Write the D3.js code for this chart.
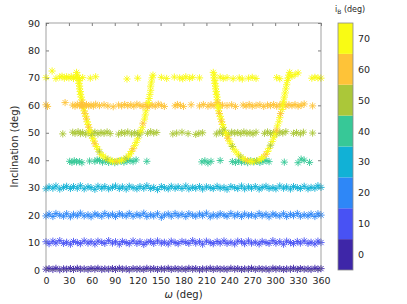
<!DOCTYPE html>
<html>
<head>
<meta charset="utf-8">
<script src="https://cdn.jsdelivr.net/npm/d3@7"></script>
<style>
  body { margin: 0; background: #fff; }
  text { font-family: "DejaVu Sans", sans-serif; fill: #262626; }
</style>
</head>
<body>
<div id="chart"></div>
<script>
// Tick labels
const omegaTicks = [0, 30, 60, 90, 120, 150, 180, 210, 240, 270, 300, 330, 360];
const incTicks = [0, 10, 20, 30, 40, 50, 60, 70, 80, 90];
const colorTicks = [0, 10, 20, 30, 40, 50, 60, 70];

// parula colormap, 8 levels
const parula8 = ["#3e26a8", "#4852f4", "#2e87f7", "#11b1d6", "#37c897", "#abc739", "#fec338", "#f9fb14"];

// dense rows share one omega grid
const omegaDense = [0,4,9,13,18,23,27,32,36,41, 45,50,55,59,64,68,73,77,82,87,
  91,96,100,105,109,114,119,123,128,132, 137,141,146,151,155,160,164,169,173,178,
  183,187,192,196,201,205,210,215,219,224, 228,233,237,242,247,251,256,260,265,269,
  274,279,283,288,292,297,301,306,311,315, 320,324,329,333,338,343,347,352,356,360];

const inc0 = [0.3,0.5,0.2,0.6,0.1,0.4,0.3,0.5,0.2,0.6, 0.3,0.4,0.2,0.5,0.3,0.6,0.2,0.4,0.3,0.5,
  0.2,0.6,0.3,0.4,0.1,0.5,0.3,0.4,0.2,0.6, 0.3,0.5,0.2,0.4,0.3,0.6,0.2,0.5,0.3,0.4,
  0.2,0.6,0.3,0.5,0.1,0.4,0.3,0.6,0.2,0.5, 0.3,0.4,0.2,0.6,0.3,0.5,0.2,0.4,0.3,0.6,
  0.2,0.5,0.3,0.4,0.1,0.6,0.3,0.5,0.2,0.4, 0.3,0.6,0.2,0.5,0.3,0.4,0.2,0.6,0.3,0.5];
const inc10 = [10.3,9.6,10.5,9.8,10.7,9.7,10.1,9.4,10.4,10.0, 9.6,10.6,9.8,10.3,9.5,10.5,10.1,9.7,10.7,9.8,
  10.3,9.4,10.4,10.0,9.6,10.6,9.7,10.3,9.3,10.1, 10.4,9.7,10.6,9.8,10.1,9.5,10.5,10.0,9.6,10.4,
  10.1,9.7,10.7,9.8,10.3,9.4,10.5,10.0,9.6,10.4, 9.8,10.6,9.7,10.1,9.5,10.5,10.3,9.6,10.6,9.8,
  10.1,9.5,10.4,10.0,9.7,10.7,9.8,10.3,9.4,10.5, 10.0,9.6,10.4,9.8,10.6,9.7,10.1,9.5,10.5,10.0];
const inc20 = [19.7,20.4,19.5,20.6,20.0,19.6,20.5,19.4,20.3,19.8, 20.7,19.7,20.1,19.4,20.4,20.0,19.6,20.6,19.8,20.3,
  19.5,20.5,20.0,19.7,20.6,19.6,20.3,19.8,20.7,19.5, 20.1,19.7,20.5,19.2,20.0,20.4,19.6,20.6,19.8,20.3,
  19.5,20.5,20.0,19.6,20.4,19.8,20.7,19.4,20.1,19.7, 20.5,20.0,19.6,20.6,19.7,20.3,19.5,20.4,19.8,20.1,
  19.6,20.6,19.8,20.3,19.4,20.4,20.0,19.7,20.5,19.5, 20.3,19.8,20.6,19.6,20.1,19.7,20.4,19.5,20.5,20.0];
const inc30 = [29.6,30.3,29.8,30.6,29.5,30.1,30.5,29.7,30.4,29.8, 30.7,29.6,30.3,30.0,29.4,30.5,29.8,30.4,29.6,30.1,
  30.6,29.7,30.3,29.5,30.5,30.0,29.6,30.4,29.8,30.7, 29.7,30.1,29.3,30.4,30.0,29.6,30.5,29.8,30.3,29.7,
  30.6,29.6,30.1,29.8,30.4,29.5,30.3,30.0,29.7,30.5, 29.8,30.1,29.4,30.4,30.0,29.7,30.6,29.6,30.3,29.8,
  30.4,29.5,30.1,30.5,29.7,30.0,29.6,30.6,29.8,30.3, 29.5,30.4,30.0,29.7,30.5,29.6,30.1,29.8,30.7,30.1];

// sparse rows, [omega, inclination]
const row40 = [[31,39.6],[34,39.2],[37,39.8],[40,39.4],[44,39.5],[47,39.1],[57,39.7],[64,39.6],[67,40.1],[70,39.9],
  [74,39.3],[78,39.8],[82,39.2],[86,39.6],[90,39.1],[94,39.5],[98,39.8],[102,39.3],[106,39.7],[110,39.9],
  [114,39.5],[118,40.1],[132,39.6],[204,39.4],[208,39.8],[212,39.0],[216,39.6],[228,39.9],[244,39.5],[248,39.2],
  [252,39.7],[256,39.3],[260,39.6],[264,39.1],[268,39.8],[272,39.4],[276,39.7],[280,39.2],[284,39.6],[288,39.9],
  [292,39.5],[312,39.3],[330,39.1],[334,40.4],[338,40.0],[345,39.2]];
const row50 = [[22,49.6],[35,50.2],[38,49.8],[42,50.4],[45,49.7],[48,50.1],[52,49.5],[56,50.3],[60,49.9],[64,50.2],
  [68,49.6],[72,50.1],[76,49.8],[80,50.3],[84,49.7],[95,49.5],[99,50.1],[103,49.8],[107,50.3],[112,49.6],
  [116,50.0],[120,49.7],[124,50.2],[133,49.8],[137,50.4],[141,49.9],[145,50.1],[166,49.6],[171,49.9],[178,50.2],
  [186,49.7],[196,49.4],[200,49.8],[205,50.0],[223,49.6],[227,50.3],[231,49.8],[235,50.1],[239,49.5],[243,50.2],
  [247,49.9],[251,50.1],[255,49.7],[259,50.3],[263,49.8],[267,50.0],[271,49.6],[275,50.2],[286,49.8],[290,50.3],
  [294,49.7],[298,50.1],[302,49.6],[306,50.2],[310,49.9],[314,50.4],[324,49.8],[328,50.1],[333,49.6],[337,50.2],
  [349,49.9]];
const row60 = [[0,60.2],[2,59.6],[25,61.0],[35,60.1],[38,59.7],[41,60.4],[44,59.9],[47,60.2],[50,59.6],[53,60.3],
  [56,59.8],[59,60.1],[62,59.7],[65,60.4],[70,59.9],[76,60.2],[81,59.8],[88,59.5],[95,60.1],[99,59.8],
  [103,60.3],[107,59.9],[111,60.2],[115,59.7],[119,60.4],[123,60.0],[127,59.6],[131,60.3],[135,59.9],[139,60.1],
  [143,59.7],[147,60.4],[151,60.0],[155,59.6],[169,59.8],[172,60.3],[176,60.0],[180,59.6],[190,60.2],[201,59.8],
  [206,60.3],[212,59.7],[216,60.2],[220,59.9],[224,60.4],[228,59.8],[231,60.1],[237,59.9],[243,60.2],[248,59.6],
  [258,60.1],[262,59.8],[266,60.3],[270,59.7],[275,60.0],[280,60.2],[285,59.6],[290,60.1],[294,59.9],[298,60.3],
  [302,59.7],[306,60.1],[310,60.4],[314,59.8],[318,60.2],[322,59.9],[326,60.3],[330,59.7],[334,60.0],[338,60.5],
  [349,59.8]];
const row70 = [[0,70.1],[8,72.5],[13,69.8],[18,70.3],[21,70.6],[24,69.9],[27,70.4],[30,70.0],[33,70.5],[36,69.8],
  [39,70.2],[44,69.7],[48,70.1],[58,69.9],[65,70.4],[106,69.6],[120,69.9],[151,70.2],[158,69.8],[168,70.3],
  [175,70.0],[179,69.7],[183,70.4],[188,69.9],[192,70.2],[201,70.0],[228,70.3],[232,69.8],[237,70.1],[245,69.7],
  [253,70.0],[257,69.6],[265,69.9],[270,70.2],[275,69.8],[302,70.1],[306,69.7],[322,70.6],[326,71.2],[330,71.8],
  [348,69.9],[352,70.2],[356,70.0],[360,69.9]];

// the two U-shaped tracks, [omega, inclination, iB]
const trackA = [[40,72,70],[41,71,70],[42,70,70],[43,69,70],[43,68,70],[44,67,70],[44,66,70],[45,65,70],[45,64,70],[46,63,70],
  [47,62,70],[47,61,60],[48,60,60],[49,59,60],[50,58,70],[51,57,60],[52,56,70],[53,55,60],[54,54,70],[55,53,70],
  [56,52,60],[57,51,70],[58,50,70],[60,49,50],[61,48,70],[63,47,70],[64,46,60],[66,45,70],[68,44,70],[70,43,50],
  [72,42,70],[75,41.5,70],[78,40.8,70],[81,40.3,50],[84,40,70],[87,39.6,70],[90,39.5,70],[93,39.6,60],[96,39.8,70],[99,40,70],
  [102,40.3,70],[105,40.8,50],[108,41.5,70],[110,42.3,70],[112,43.2,70],[114,44.2,60],[116,45.3,70],[118,46.5,70],[120,47.8,70],[122,49.2,50],
  [124,50.6,70],[126,52,70],[127,53.5,60],[129,55,70],[130,56.5,70],[131,58,70],[133,59.5,60],[134,61,70],[135,62.5,70],[136,64,70],
  [137,65.5,70],[137,67,70],[138,68.5,70],[139,70,70],[140,71,70]];
const trackB = [[219,72,70],[220,71,70],[220,70,70],[221,69,70],[221,68,70],[222,67,70],[222,66,70],[223,65,70],[223,64,70],[224,63,70],
  [224,62,70],[225,61,60],[225,60,70],[226,59,70],[226,58,70],[227,57,60],[228,56,70],[229,55,70],[230,54,60],[231,53,70],
  [232,52,70],[233,51,50],[235,50,70],[237,49,70],[238,48,60],[240,47,70],[242,46,70],[244,45,50],[246,44,70],[249,43,70],
  [252,42,70],[255,41.2,50],[258,40.6,70],[261,40.1,70],[264,39.8,60],[267,39.6,70],[270,39.5,70],[273,39.6,70],[276,39.8,50],[279,40.1,70],
  [282,40.6,70],[285,41.3,70],[288,42.2,60],[290,43.2,70],[292,44.3,70],[294,45.5,50],[296,46.8,70],[298,48.2,70],[300,49.6,70],[302,51,60],
  [303,52.5,70],[305,54,70],[306,55.5,70],[307,57,60],[309,58.5,70],[310,60,70],[311,61.5,70],[312,63,70],[313,64.5,70],[314,66,70],
  [315,67.5,70],[316,69,70],[317,70,70],[318,71,70],[319,72,70]];

// Build point list [omega, inc, iB]
const points = [];
[[inc0, 0], [inc10, 10], [inc20, 20], [inc30, 30]].forEach(([incs, iB]) => {
    omegaDense.forEach((w, k) => points.push([w, incs[k], iB]));
});
[[row40, 40], [row50, 50], [row60, 60], [row70, 70]].forEach(([row, iB]) => {
    row.forEach(d => points.push([d[0], d[1], iB]));
});
trackA.forEach(d => points.push(d));
trackB.forEach(d => points.push(d));

// Dimensions
const W = 407, H = 304;
const margin = {top: 23, left: 46, right: 86, bottom: 34};
const width = W - margin.left - margin.right,
      height = H - margin.top - margin.bottom;

const svg = d3.select("#chart").append("svg")
    .attr("width", W).attr("height", H);

const g = svg.append("g")
    .attr("transform", `translate(${margin.left},${margin.top})`);

const x = d3.scaleLinear().domain([0, 360]).range([0, width]);
const y = d3.scaleLinear().domain([0, 90]).range([height, 0]);
const color = d3.scaleQuantize().domain([-5, 75]).range(parula8);

// Axes with inward ticks
const axisColor = "#262626";
function styleAxis(sel) {
    sel.select(".domain").remove();
    sel.selectAll("line").attr("stroke", axisColor).attr("stroke-width", 0.6);
    sel.selectAll("text").style("font-size", "9.5px").style("font-family", "DejaVu Sans").attr("fill", axisColor);
}

g.append("g")
    .attr("transform", `translate(0,${height})`)
    .call(d3.axisBottom(x).tickValues(omegaTicks).tickSizeInner(-3).tickSizeOuter(0).tickPadding(7))
    .call(styleAxis);
g.append("g")
    .call(d3.axisTop(x).tickValues(omegaTicks).tickSizeInner(-3).tickSizeOuter(0).tickFormat(""))
    .call(styleAxis);
g.append("g")
    .call(d3.axisLeft(y).tickValues(incTicks).tickSizeInner(-3).tickSizeOuter(0).tickPadding(6))
    .call(styleAxis);
g.append("g")
    .attr("transform", `translate(${width},0)`)
    .call(d3.axisRight(y).tickValues(incTicks).tickSizeInner(-3).tickSizeOuter(0).tickFormat(""))
    .call(styleAxis);

// Asterisk markers
const h = 3.6, dd = h * 0.72;
const star = `M${-h},0L${h},0M0,${-h}L0,${h}M${-dd},${-dd}L${dd},${dd}M${-dd},${dd}L${dd},${-dd}`;

g.append("g").selectAll("path")
    .data(points)
    .enter()
    .append("path")
    .attr("transform", d => `translate(${x(d[0])},${y(d[1])})`)
    .attr("d", star)
    .attr("fill", "none")
    .attr("stroke", d => color(d[2]))
    .attr("stroke-width", 0.9);

// Box
g.append("rect")
    .attr("width", width).attr("height", height)
    .attr("fill", "none").attr("stroke", "#8a8a8a").attr("stroke-width", 0.8);

// Axis labels
g.append("text")
    .attr("x", width / 2).attr("y", height + 28)
    .attr("text-anchor", "middle")
    .style("font-size", "10px")
    .html('<tspan font-style="italic">ω</tspan> (deg)');

g.append("text")
    .attr("transform", "rotate(-90)")
    .attr("x", -height / 2).attr("y", -28)
    .attr("text-anchor", "middle")
    .style("font-size", "10px")
    .text("Inclination (deg)");

// Colorbar
const cbX = 338, cbW = 15;
const cy = d3.scaleLinear().domain([-5, 75]).range([margin.top + height, margin.top]);
const cb = svg.append("g");
parula8.forEach((c, i) => {
    const lo = -5 + i * 10;
    cb.append("rect")
        .attr("x", cbX).attr("y", cy(lo + 10))
        .attr("width", cbW).attr("height", cy(lo) - cy(lo + 10))
        .attr("fill", c);
});
cb.append("rect")
    .attr("x", cbX).attr("y", margin.top)
    .attr("width", cbW).attr("height", height)
    .attr("fill", "none").attr("stroke", "#8a8a8a").attr("stroke-width", 0.8);

cb.append("g")
    .attr("transform", `translate(${cbX + cbW},0)`)
    .call(d3.axisRight(cy).tickValues(colorTicks).tickSize(0).tickPadding(5))
    .call(styleAxis);

svg.append("text")
    .attr("x", cbX - 3).attr("y", 12)
    .style("font-size", "8px")
    .html('<tspan>i</tspan><tspan font-size="6px" dy="2">B</tspan><tspan dy="-2"> (deg)</tspan>');
</script>
</body>
</html>
